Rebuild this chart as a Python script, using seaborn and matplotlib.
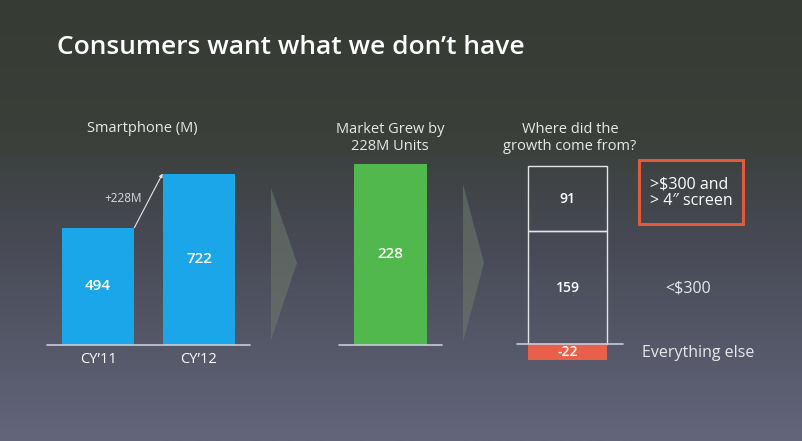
import numpy as np
import matplotlib
matplotlib.use("Agg")
import matplotlib.pyplot as plt
import seaborn as sns
from matplotlib.colors import LinearSegmentedColormap
from matplotlib.patches import Polygon, Rectangle

# data
years = ["CY\u201911", "CY\u201912"]
smartphone_units = [494, 722]
growth_label = ["Growth"]
growth_units = [228]
segment_names = [">$300 and\n> 4\u2033 screen", "<$300", "Everything else"]
segment_units = [91, 159, -22]

W, H = 802, 441
BLUE = "#1ba6ea"
GREEN = "#50b84c"
RED = "#e8604a"
LINE = "#c9cbd3"

sns.set_theme(style="white")
plt.rcParams["font.family"] = ["Open Sans", "DejaVu Sans"]

fig = plt.figure(figsize=(W / 100, H / 100), dpi=100)

# background gradient
bg = fig.add_axes([0, 0, 1, 1], zorder=0)
cmap = LinearSegmentedColormap.from_list(
    "bg", [(0, "#363c34"), (0.3, "#3a3f39"), (0.55, "#474a55"), (1, "#63657b")])
grad = np.linspace(0, 1, 256).reshape(-1, 1)
bg.imshow(grad, cmap=cmap, aspect="auto", extent=[0, W, H, 0])
bg.set_xlim(0, W)
bg.set_ylim(H, 0)
bg.axis("off")


def pix_axes(x0, x1, y_top, y_bot, y_zero, scale, xlim):
    ax = fig.add_axes([x0 / W, 1 - y_bot / H, (x1 - x0) / W, (y_bot - y_top) / H], zorder=1)
    ax.patch.set_alpha(0)
    return ax, (-(y_bot - y_zero) / scale, (y_zero - y_top) / scale), xlim


def clean(ax, ylim, xlim):
    ax.set_ylim(*ylim)
    ax.set_xlim(*xlim)
    sns.despine(ax=ax, left=True, bottom=True)
    ax.set_yticks([])
    ax.set_xlabel("")
    ax.set_ylabel("")


# panel 1: smartphone units
ax1, yl1, xl1 = pix_axes(47, 250, 100, 345, 345, 0.2375, (-0.505, 1.505))
sns.barplot(x=years, y=smartphone_units, ax=ax1, color=BLUE, saturation=1, width=0.71,
            linewidth=0)
clean(ax1, yl1, xl1)
ax1.tick_params(axis="x", length=0, pad=5, labelcolor="white", labelsize=10.5)
ax1.axhline(0, color=LINE, lw=1.2, clip_on=False)
for i, v in enumerate(smartphone_units):
    ax1.text(i, v / 2, str(v), ha="center", va="center", color="white",
             fontsize=11, fontweight="semibold")
ax1.annotate("", xy=(1 - 0.36, 722), xytext=(0.36, 494),
             arrowprops=dict(arrowstyle="-|>", color="#e6e6e6", lw=0.8,
                             mutation_scale=5, shrinkA=0, shrinkB=0))

# panel 2: market growth
ax2, yl2, xl2 = pix_axes(339, 442, 100, 345, 345, 0.794, (-0.5, 0.5))
sns.barplot(x=growth_label, y=growth_units, ax=ax2, color=GREEN, saturation=1, width=0.71,
            linewidth=0)
clean(ax2, yl2, xl2)
ax2.set_xticks([])
ax2.axhline(0, color=LINE, lw=1.2, clip_on=False)
ax2.text(0, growth_units[0] * 0.5, str(growth_units[0]), ha="center", va="center",
         color="white", fontsize=11, fontweight="semibold")

# panel 3: where growth came from
ax3, yl3, xl3 = pix_axes(517, 623, 100, 370, 344, 0.71, (-0.505, 0.555))
top, mid, neg = segment_units
ax3.bar(0, mid, bottom=0, width=0.79, fill=False, edgecolor="#e4e4e4", lw=1)
ax3.bar(0, top, bottom=mid, width=0.79, fill=False, edgecolor="#e4e4e4", lw=1)
ax3.bar(0, neg, bottom=0, width=0.79, color=RED, lw=0)
clean(ax3, yl3, xl3)
ax3.set_xticks([])
ax3.axhline(0, color=LINE, lw=1.2, clip_on=False)
seg_y = [mid + top / 2, mid / 2, neg / 2]
for v, y in zip(segment_units, seg_y):
    ax3.text(0, y, str(v), ha="center", va="center", color="white",
             fontsize=10, fontweight="semibold")

# overlay text and decorations
ov = fig.add_axes([0, 0, 1, 1], zorder=2)
ov.set_xlim(0, W)
ov.set_ylim(H, 0)
ov.axis("off")
ov.patch.set_alpha(0)

ov.text(57, 48, "Consumers want what we don\u2019t have", color="white",
        fontsize=19, fontweight="semibold", va="center", ha="left")
ov.text(142, 128, "Smartphone (M)", color="#e8e8e8", fontsize=10.5, ha="center", va="center")
ov.text(123, 198, "+228M", color="#dcdcdc", fontsize=8.5, ha="center", va="center")
ov.text(390, 138, "Market Grew by\n228M Units", color="#e8e8e8", fontsize=10.5,
        ha="center", va="center", linespacing=1.1)
ov.text(570, 138, "Where did the\ngrowth come from?", color="#e8e8e8", fontsize=10.5,
        ha="center", va="center", linespacing=1.1)

for pts in [[(271, 188), (297, 263), (271, 340)], [(463, 184), (484, 263), (463, 342)]]:
    ov.add_patch(Polygon(pts, closed=True, facecolor="#6f7b6c", alpha=0.55, lw=0))

ov.add_patch(Rectangle((639, 160), 104, 64, fill=False, edgecolor="#e05a40", lw=2.2))
ov.text(650, 193, segment_names[0], color="white", fontsize=11.5, ha="left", va="center",
        linespacing=1.0)
ov.text(665, 288, segment_names[1], color="#e8e8e8", fontsize=11.5, ha="left", va="center")
ov.text(642, 353, segment_names[2], color="#e8e8e8", fontsize=11.5, ha="left", va="center")

fig.savefig("out.png", dpi=100)
